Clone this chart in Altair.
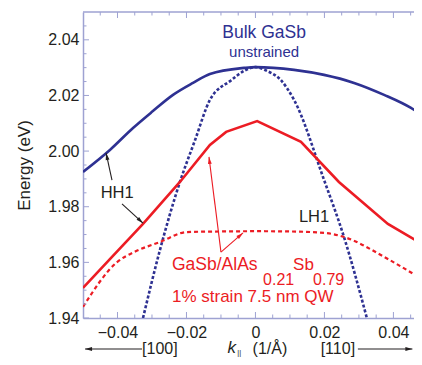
import altair as alt
import pandas as pd
import math

# ---------------- data ----------------
bulk_hh_k = [-0.05, -0.0422, -0.0355, -0.03, -0.0239, -0.0181, -0.0132, -0.0033, 0.0, 0.0112, 0.0199, 0.0286, 0.0373, 0.0451, 0.048]
bulk_hh_E = [1.9925, 2.0004, 2.0083, 2.0141, 2.0202, 2.0245, 2.0277, 2.0299, 2.0302, 2.0292, 2.0274, 2.0245, 2.0202, 2.0155, 2.0132]

bulk_lh_k = [-0.0326, -0.0277, -0.0219, -0.0175, -0.0132, -0.007, -0.0032, 0.0, 0.0032, 0.0073, 0.0112, 0.0199, 0.0257, 0.0323]
bulk_lh_E = [1.94, 1.9644, 1.9889, 2.004, 2.0184, 2.0255, 2.0289, 2.0302, 2.0289, 2.0256, 2.0184, 1.9896, 1.969, 1.94]

qw_hh_k = [-0.05, -0.0422, -0.0326, -0.0219, -0.0132, -0.0085, 0.0005, 0.0132, 0.0242, 0.0384, 0.048]
qw_hh_E = [1.9508, 1.9612, 1.9738, 1.9889, 2.0022, 2.0069, 2.0108, 2.0033, 1.9889, 1.9738, 1.9668]

qw_lh_k = [-0.05, -0.0401, -0.035, -0.0277, -0.0198, -0.01, 0.0, 0.01, 0.02, 0.0257, 0.0384, 0.048]
qw_lh_E = [1.944, 1.9601, 1.9638, 1.9673, 1.9709, 1.9711, 1.9712, 1.9711, 1.9706, 1.9691, 1.9612, 1.9542]

x_major = [-0.04, -0.02, 0.0, 0.02, 0.04]
x_minor = [-0.045, -0.035, -0.03, -0.025, -0.015, -0.01, -0.005, 0.005, 0.01, 0.015, 0.025, 0.03, 0.035, 0.045]
y_major = [1.94, 1.96, 1.98, 2.00, 2.02, 2.04]
y_minor = [1.945, 1.95, 1.955, 1.965, 1.97, 1.975, 1.985, 1.99, 1.995, 2.005, 2.01, 2.015, 2.025, 2.03, 2.035, 2.045]

# annotation texts
blue_texts = ["Bulk GaSb", "unstrained"]
blue_k = [0.0025, 0.0025]
blue_E = [2.0425, 2.0356]
blue_sizes = [17.5, 15]

black_texts = ["HH1", "LH1"]
black_k = [-0.0401, 0.0170]
black_E = [1.9849, 1.9763]

red_texts = ["GaSb/AlAs", "0.21", "Sb", "0.79", "1% strain 7.5 nm QW"]
red_k = [-0.0242, 0.0022, 0.0109, 0.0167, -0.0242]
red_E = [1.9592, 1.9536, 1.9592, 1.9536, 1.9474]
red_sizes = [17.5, 16, 17, 16, 17]

# arrows: tail -> head (data coordinates)
arrow_k1 = [-0.0416, -0.0387, -0.0100, -0.0100]
arrow_E1 = [1.9896, 1.9810, 1.9637, 1.9637]
arrow_k2 = [-0.0433, -0.0326, -0.01347, -0.00361]
arrow_E2 = [1.9993, 1.9741, 1.9979, 1.9706]
arrow_col = ["black", "black", "red", "red"]

# ---------------- styling ----------------
PXPU = 338 / 0.098          # pixels per unit of k
W, H = 331, 306
XMIN = -0.05
XMAX = XMIN + W / PXPU
YMIN, YMAX = 1.94, 2.05
BLUE = "#2e3192"
RED = "#ec1c24"
BLACK = "#231f20"
FRAME = "#9ea2d2"
FONT = "Liberation Sans"
HEAD = "M0,0L-0.55,2L0.55,2Z"

xs = alt.Scale(domain=[XMIN, XMAX], nice=False, zero=False)
ys = alt.Scale(domain=[YMIN, YMAX], nice=False, zero=False)

x_axis = alt.Axis(values=x_major, title=None, ticks=False, grid=False,
                  domainColor=FRAME, domainWidth=1.5, labelFont=FONT, labelFontSize=16,
                  labelColor=BLACK, labelPadding=6,
                  labelExpr="datum.value == 0 ? '0' : replace(format(datum.value, '.2f'), '-', '\u2013')")
y_axis = alt.Axis(values=y_major, title="Energy (eV)", ticks=False, grid=False,
                  domainColor=FRAME, domainWidth=1.5, labelFont=FONT, labelFontSize=16,
                  labelColor=BLACK, labelPadding=4, format=".2f",
                  titleFont=FONT, titleFontSize=17, titleFontWeight="normal",
                  titleColor=BLACK, titlePadding=14)

X = lambda: alt.X("k:Q", scale=xs, axis=x_axis)
Y = lambda: alt.Y("E:Q", scale=ys, axis=y_axis)


def line(ks, Es, color, width, dash=None, interp="monotone"):
    df = pd.DataFrame({"k": ks, "E": Es})
    kw = dict(color=color, strokeWidth=width, interpolate=interp, clip=True, strokeCap="butt")
    if dash:
        kw["strokeDash"] = dash
    return alt.Chart(df).mark_line(**kw).encode(x=X(), y=Y())


layers = []
layers.append(line(bulk_hh_k, bulk_hh_E, BLUE, 2.6))
layers.append(line(bulk_lh_k, bulk_lh_E, BLUE, 2.6, dash=[3, 2]))
layers.append(line(qw_hh_k, qw_hh_E, RED, 2.6, interp="linear"))
layers.append(line(qw_lh_k, qw_lh_E, RED, 2.2, dash=[4, 3]))


# frame ticks (inward)
def xticks(vals, length, top):
    df = pd.DataFrame({"k": vals})
    if top:
        enc = dict(y=alt.value(0), y2=alt.value(length))
    else:
        enc = dict(y=alt.value(H), y2=alt.value(H - length))
    return alt.Chart(df).mark_rule(color=FRAME, strokeWidth=1).encode(x=X(), **enc)


def yticks(vals, length):
    df = pd.DataFrame({"E": vals})
    return alt.Chart(df).mark_rule(color=FRAME, strokeWidth=1).encode(
        y=Y(), x=alt.value(0), x2=alt.value(length))


layers += [xticks(x_major, 6, False), xticks(x_minor, 3.5, False),
           xticks(x_major, 6, True), xticks(x_minor, 3.5, True),
           yticks(y_major, 6), yticks(y_minor, 3.5)]

# top frame line
layers.append(alt.Chart(pd.DataFrame({"k": [XMIN], "k2": [XMAX]})).mark_rule(
    color=FRAME, strokeWidth=1.5).encode(x=X(), x2="k2:Q", y=alt.value(0)))

# texts
bdf = pd.DataFrame({"k": blue_k, "E": blue_E, "t": blue_texts, "s": blue_sizes})
layers.append(alt.Chart(bdf).mark_text(font=FONT, color=BLUE, align="center", baseline="middle").encode(
    x=X(), y=Y(), text="t:N", size=alt.Size("s:Q", scale=None, legend=None)))

kdf = pd.DataFrame({"k": black_k, "E": black_E, "t": black_texts})
layers.append(alt.Chart(kdf).mark_text(font=FONT, color=BLACK, fontSize=16.5, align="center",
                                       baseline="middle").encode(x=X(), y=Y(), text="t:N"))

rdf = pd.DataFrame({"k": red_k, "E": red_E, "t": red_texts, "s": red_sizes})
layers.append(alt.Chart(rdf).mark_text(font=FONT, color=RED, align="left",
                                       baseline="middle").encode(
    x=X(), y=Y(), text="t:N", size=alt.Size("s:Q", scale=None, legend=None)))


# arrows
def px(k, E):
    return ((k - XMIN) * PXPU, (YMAX - E) / (YMAX - YMIN) * H)


angles = []
for a, b, c, d in zip(arrow_k1, arrow_E1, arrow_k2, arrow_E2):
    x1, y1 = px(a, b)
    x2, y2 = px(c, d)
    angles.append(math.degrees(math.atan2(x2 - x1, -(y2 - y1))) % 360)

adf = pd.DataFrame({"k": arrow_k1, "E": arrow_E1, "k2": arrow_k2, "E2": arrow_E2,
                    "c": [BLACK if c == "black" else RED for c in arrow_col], "ang": angles})
layers.append(alt.Chart(adf).mark_rule(strokeWidth=1.1).encode(
    x=X(), y=Y(), x2="k2:Q", y2="E2:Q", color=alt.Color("c:N", scale=None)))
hdf = adf.rename(columns={"k": "k0", "E": "E0"}).rename(columns={"k2": "k", "E2": "E"})
layers.append(alt.Chart(hdf).mark_point(shape=HEAD, filled=True, size=49, opacity=1,
                                        strokeWidth=0).encode(
    x=X(), y=Y(), angle=alt.Angle("ang:Q", scale=None), color=alt.Color("c:N", scale=None)))

# bottom row: direction arrows & axis title
ROW_Y = 337
dir_k1 = [-0.0329, 0.0297]
dir_k2 = [-0.0494, 0.0455]
dir_ang = [270, 90]
ddf = pd.DataFrame({"k": dir_k1, "k2": dir_k2})
layers.append(alt.Chart(ddf).mark_rule(color=BLACK, strokeWidth=1.1).encode(
    x=X(), x2="k2:Q", y=alt.value(ROW_Y)))
dhdf = pd.DataFrame({"k": dir_k2, "ang": dir_ang})
layers.append(alt.Chart(dhdf).mark_point(shape=HEAD, filled=True, size=49, opacity=1,
                                         strokeWidth=0, color=BLACK).encode(
    x=X(), y=alt.value(ROW_Y), angle=alt.Angle("ang:Q", scale=None)))

row_texts = ["[100]", "[110]", "(1/\u00c5)"]
row_k = [-0.0277, 0.0239, 0.0042]
tdf = pd.DataFrame({"k": row_k, "t": row_texts})
layers.append(alt.Chart(tdf).mark_text(font=FONT, color=BLACK, fontSize=16, align="center",
                                       baseline="middle").encode(x=X(), y=alt.value(ROW_Y), text="t:N"))
kk = pd.DataFrame({"k": [-0.0069], "t": ["k"]})
layers.append(alt.Chart(kk).mark_text(font=FONT, color=BLACK, fontSize=17, fontStyle="italic",
                                      align="center", baseline="middle").encode(
    x=X(), y=alt.value(ROW_Y - 1), text="t:N"))
ks = pd.DataFrame({"k": [-0.0047], "t": ["||"]})
layers.append(alt.Chart(ks).mark_text(font=FONT, color=BLACK, fontSize=7.5,
                                      align="center", baseline="middle").encode(
    x=X(), y=alt.value(ROW_Y + 4), text="t:N"))

chart = alt.layer(*layers).properties(
    width=W, height=H,
    autosize=alt.AutoSizeParams(type="none"),
    padding={"left": 75, "top": 4, "right": 0, "bottom": 39},
).configure_view(stroke=None)

chart.save("out.html", embed_options={"renderer": "svg", "actions": False})
